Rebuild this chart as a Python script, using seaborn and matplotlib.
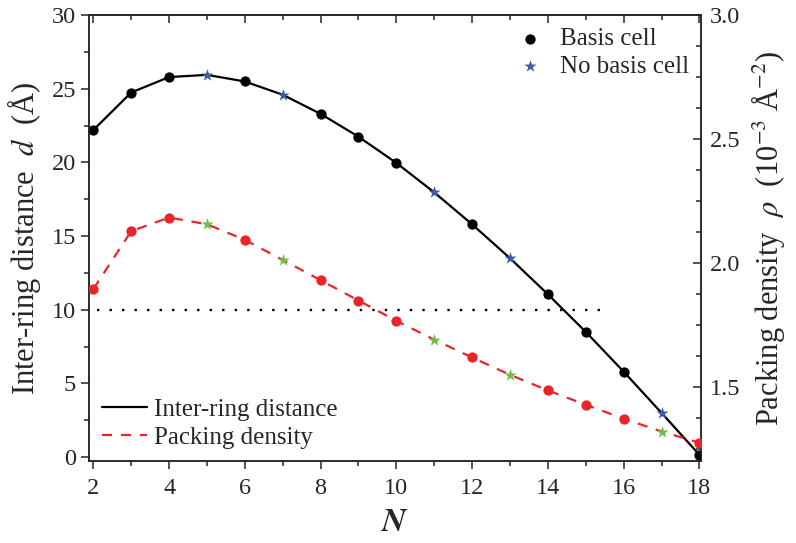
import seaborn as sns
import matplotlib
matplotlib.use("Agg")
import matplotlib.pyplot as plt
from matplotlib.ticker import MultipleLocator
import pandas as pd

# values
N = [2, 3, 4, 5, 6, 7, 8, 9, 10, 11, 12, 13, 14, 15, 16, 17, 18]
dist = [22.2, 24.75, 25.8, 25.95, 25.5, 24.6, 23.3, 21.75, 19.97, 17.97,
        15.8, 13.5, 11.05, 8.5, 5.8, 3.0, 0.15]
rho = [1.894, 2.128, 2.183, 2.156, 2.093, 2.012, 1.930, 1.848, 1.766, 1.690,
       1.618, 1.548, 1.485, 1.427, 1.371, 1.319, 1.274]
no_basis = [5, 7, 11, 13, 17]
dotted_x = [2.1, 15.4]
dotted_y = [10, 10]

df = pd.DataFrame({"N": N, "d": dist, "rho": rho})
df["basis"] = ~df["N"].isin(no_basis)

sns.set_style("ticks")
plt.rcParams['font.family'] = ['Liberation Serif', 'DejaVu Serif']
plt.rcParams['mathtext.fontset'] = 'stix'
plt.rcParams['axes.linewidth'] = 1.1

red = '#e8262a'
blue = '#3b5ca8'
green = '#6cbf4a'

f, ax = plt.subplots(figsize=(7.96, 5.43), dpi=100)
f.subplots_adjust(left=0.112, right=0.881, top=0.972, bottom=0.151)
ax2 = ax.twinx()

# left axis: inter-ring distance
sns.lineplot(x="N", y="d", data=df, ax=ax, color='black', lw=1.6, legend=False)
line1 = ax.lines[-1]
ax.plot(dotted_x, dotted_y, color='black', ls=(0, (1, 4.3)), lw=1.7)
sc1 = ax.scatter(df.loc[df.basis, "N"], df.loc[df.basis, "d"], s=55, color='black',
                 zorder=3, label="Basis cell", linewidths=0)
sc2 = ax.scatter(df.loc[~df.basis, "N"], df.loc[~df.basis, "d"], s=85, marker='*',
                 color=blue, zorder=3, label="No basis cell", linewidths=0)

# right axis: packing density
sns.lineplot(x="N", y="rho", data=df, ax=ax2, color=red, lw=1.6, legend=False)
line2 = ax2.lines[-1]
line2.set_dashes((4.5, 4))
ax2.scatter(df.loc[df.basis, "N"], df.loc[df.basis, "rho"], s=55, color=red,
            zorder=3, linewidths=0)
ax2.scatter(df.loc[~df.basis, "N"], df.loc[~df.basis, "rho"], s=85, marker='*',
            color=green, zorder=3, linewidths=0)

ax.set_xlim(1.89, 18.05)
ax.set_ylim(-0.27, 30)
ax2.set_ylim(1.2, 3.0)

ax.xaxis.set_major_locator(MultipleLocator(2))
ax.xaxis.set_minor_locator(MultipleLocator(1))
ax.yaxis.set_major_locator(MultipleLocator(5))
ax.yaxis.set_minor_locator(MultipleLocator(2.5))
ax2.yaxis.set_major_locator(MultipleLocator(0.5))
ax2.yaxis.set_minor_locator(MultipleLocator(0.125))

ax.tick_params(which='both', direction='out', labelsize=17.5, width=1.1)
ax.tick_params(which='major', length=6)
ax.tick_params(which='minor', length=3.5)
ax.tick_params(axis='x', pad=6)
ax.tick_params(axis='y', right=False)
ax2.tick_params(which='both', direction='in', labelsize=17.5, width=1.1, pad=6)
ax2.tick_params(which='major', length=6)
ax2.tick_params(which='minor', length=3.5)

top = ax.secondary_xaxis('top')
top.xaxis.set_major_locator(MultipleLocator(2))
top.xaxis.set_minor_locator(MultipleLocator(1))
top.tick_params(which='both', direction='in', labeltop=False, width=1.1)
top.tick_params(which='major', length=6)
top.tick_params(which='minor', length=3.5)

ax.set_xlabel(r"$\boldsymbol{N}$", fontsize=24, labelpad=6)
ax.set_ylabel(r"Inter-ring distance  $d$  (Å)", fontsize=22, labelpad=6)
ax2.set_ylabel(r"Packing density  $\rho$  (10$^{-3}$ Å$^{-2}$)", fontsize=22, labelpad=6)

leg1 = ax2.legend([sc1, sc2], ["Basis cell", "No basis cell"], loc='upper right',
                  frameon=False, fontsize=18, handletextpad=0.2, labelspacing=0.2,
                  borderaxespad=0.2, borderpad=0.3, scatterpoints=1)
ax2.add_artist(leg1)
ax2.legend([line1, line2], ["Inter-ring distance", "Packing density"], loc='lower left',
           frameon=False, fontsize=18, handlelength=1.8, handletextpad=0.3,
           labelspacing=0.2, borderaxespad=0.2, borderpad=0.3)

f.savefig("out.png", dpi=100)
